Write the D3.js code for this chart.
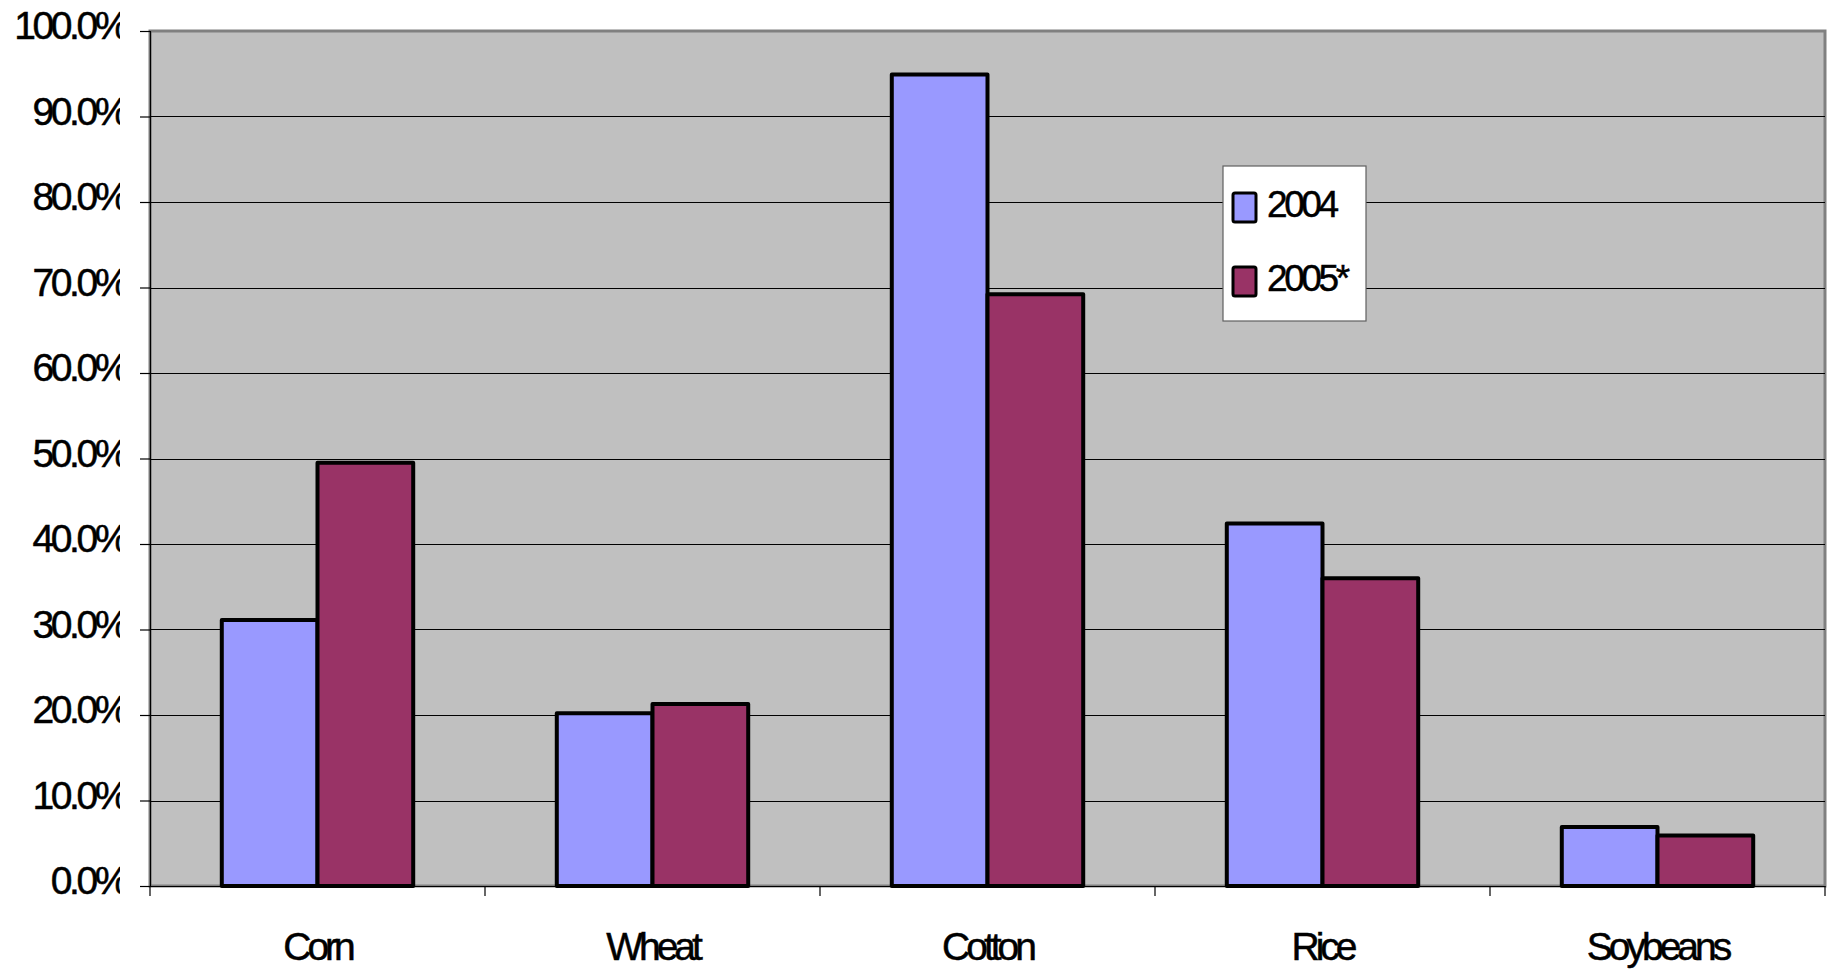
<!DOCTYPE html>
<html>
<head>
<meta charset="utf-8">
<script src="https://cdn.jsdelivr.net/npm/d3@7/dist/d3.min.js"></script>
<style>
  html, body { margin: 0; padding: 0; background: #ffffff; }
  svg { display: block; }
  text { font-family: "Liberation Sans", Arial, sans-serif; fill: #000; stroke: #000; stroke-width: 0.5px; }
</style>
</head>
<body>
<svg id="chart" width="1834" height="969"></svg>
<script>
const categories = ["Corn", "Wheat", "Cotton", "Rice", "Soybeans"];
const seriesNames = ["2004", "2005*"];
const values2004 = [0.311, 0.202, 0.949, 0.424, 0.069];
const values2005 = [0.495, 0.213, 0.692, 0.360, 0.059];
const yTicks = [0, 0.1, 0.2, 0.3, 0.4, 0.5, 0.6, 0.7, 0.8, 0.9, 1.0];
const seriesColors = ["#9999FF", "#993366"];

const seriesValues = [values2004, values2005];

const W = 1834, H = 969;
const plot = { left: 150, right: 1825, top: 31, bottom: 886 };

const svg = d3.select("#chart");

const x = d3.scaleBand().domain(categories).range([plot.left, plot.right]).paddingInner(0).paddingOuter(0);
const x1 = d3.scaleBand().domain(seriesNames).range([0, x.bandwidth()]).paddingInner(0).paddingOuter(0.75);
const y = d3.scaleLinear().domain([0, 1]).range([plot.bottom, plot.top]);
const color = d3.scaleOrdinal().domain(seriesNames).range(seriesColors);

// plot area background
svg.append("rect")
  .attr("x", plot.left).attr("y", plot.top)
  .attr("width", plot.right - plot.left).attr("height", plot.bottom - plot.top)
  .attr("fill", "#C0C0C0")
  .attr("stroke", "#808080").attr("stroke-width", 3);

// gridlines
svg.append("g").selectAll("line")
  .data(yTicks.filter(t => t > 0 && t < 1))
  .join("line")
  .attr("x1", plot.left).attr("x2", plot.right)
  .attr("y1", d => Math.round(y(d)) + 0.5).attr("y2", d => Math.round(y(d)) + 0.5)
  .attr("stroke", "#000").attr("stroke-width", 1.2);

// y axis
const yAxis = d3.axisLeft(y).tickValues(yTicks).tickFormat(d3.format(".1%")).tickSize(10).tickPadding(18);
const clip = svg.append("defs").append("clipPath").attr("id", "yclip");
clip.append("rect").attr("x", 0).attr("y", 0).attr("width", 120).attr("height", H);
const gy = svg.append("g").attr("transform", `translate(${plot.left},0)`).call(yAxis);
gy.select(".domain").attr("stroke", "#000").attr("stroke-width", 1.2);
gy.selectAll(".tick line").attr("stroke", "#000").attr("stroke-width", 1.2);
gy.selectAll(".tick text")
  .attr("font-size", 39).attr("letter-spacing", "-3.4px")
  .attr("font-family", "Liberation Sans, Arial, sans-serif")
  .attr("dy", "0.2em")
  .attr("x", -(plot.left - 126));
// move labels into a clipped group (the original cuts the % sign)
const labelsG = svg.append("g").attr("clip-path", "url(#yclip)").attr("text-anchor", "end");
gy.selectAll(".tick").each(function() {
  const node = d3.select(this).select("text").node();
  const tr = d3.select(this).attr("transform");
  const g = labelsG.append("g").attr("transform", `translate(${plot.left},0) ` + tr);
  g.node().appendChild(node);
});

// x axis
const xAxis = d3.axisBottom(x).tickSize(0).tickPadding(46);
const gx = svg.append("g").attr("transform", `translate(0,${plot.bottom})`).call(xAxis);
gx.select(".domain").attr("stroke", "#000").attr("stroke-width", 1.2);
gx.selectAll(".tick text").attr("font-size", 39).attr("letter-spacing", "-4px")
  .attr("font-family", "Liberation Sans, Arial, sans-serif");
// category boundary ticks
const boundaries = categories.map(c => x(c)).concat([x(categories[categories.length - 1]) + x.bandwidth()]);
svg.append("g").selectAll("line").data(boundaries).join("line")
  .attr("x1", d => d).attr("x2", d => d)
  .attr("y1", plot.bottom).attr("y2", plot.bottom + 10)
  .attr("stroke", "#000").attr("stroke-width", 1.2);

// bars
const barData = [];
categories.forEach((c, i) => {
  seriesNames.forEach((s, j) => barData.push({ cat: c, series: s, value: seriesValues[j][i] }));
});
svg.append("g").selectAll("rect").data(barData).join("rect")
  .attr("x", d => x(d.cat) + x1(d.series))
  .attr("y", d => y(d.value))
  .attr("width", x1.bandwidth())
  .attr("height", d => y(0) - y(d.value))
  .attr("fill", d => color(d.series))
  .attr("stroke", "#000").attr("stroke-width", 4)
  .attr("stroke-linejoin", "round");

// legend
const lg = svg.append("g").attr("transform", "translate(1223,166)");
lg.append("rect").attr("x", 0).attr("y", 0).attr("width", 143).attr("height", 155)
  .attr("fill", "#fff").attr("stroke", "#606060").attr("stroke-width", 1.2);
const items = lg.selectAll("g.item").data(seriesNames).join("g").attr("class", "item")
  .attr("transform", (d, i) => `translate(0,${27 + i * 74})`);
items.append("rect").attr("x", 10).attr("y", 0).attr("width", 23).attr("height", 29)
  .attr("rx", 2)
  .attr("fill", d => color(d)).attr("stroke", "#000").attr("stroke-width", 3);
items.append("text").attr("x", 44).attr("y", 24).attr("font-size", 37)
  .attr("letter-spacing", "-3.4px").text(d => d);
</script>
</body>
</html>
